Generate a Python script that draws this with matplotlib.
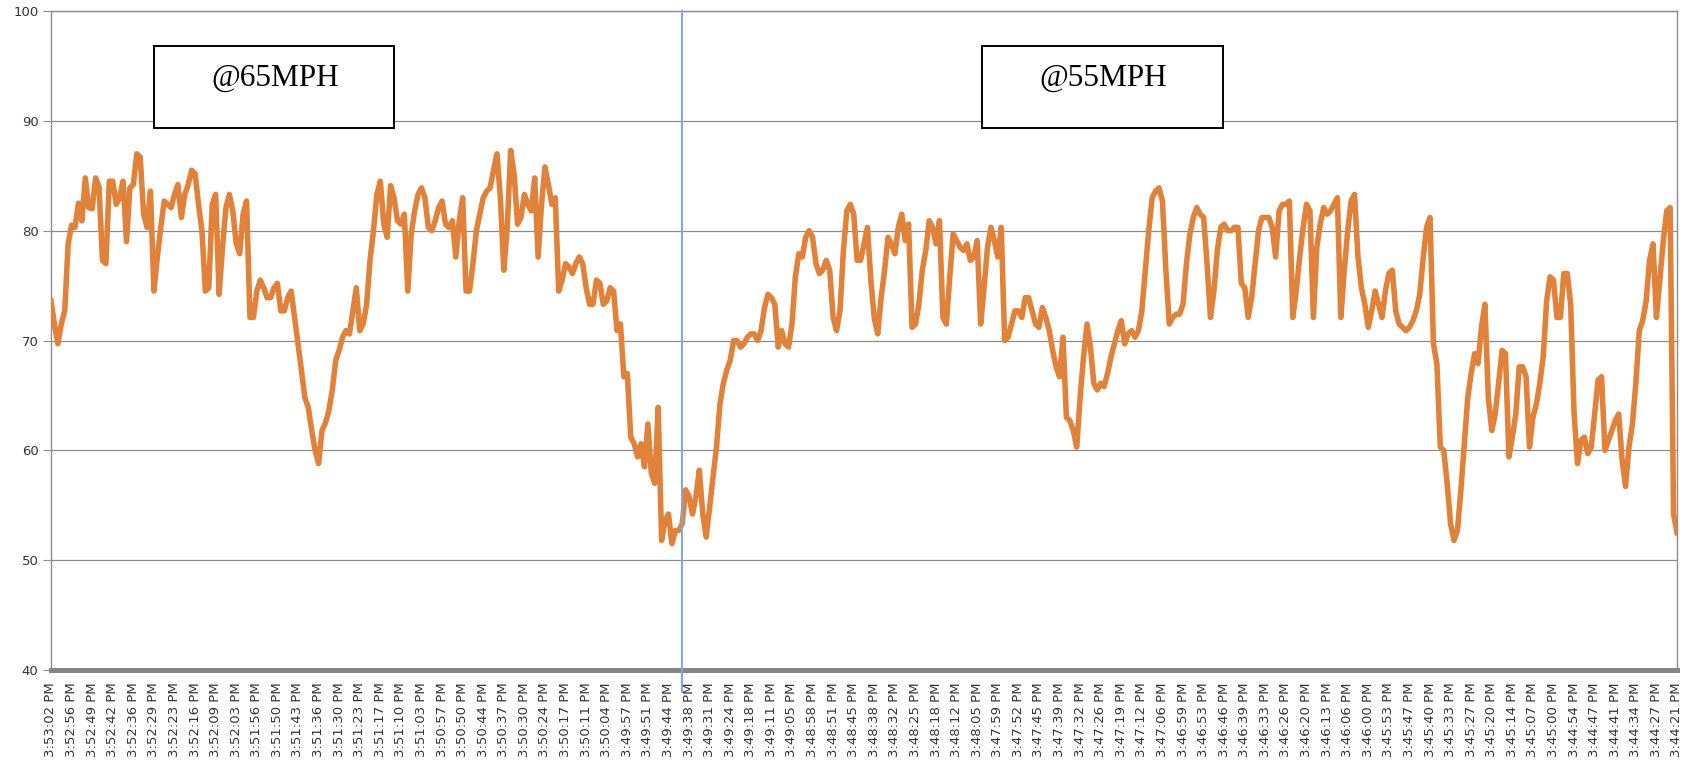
import matplotlib
matplotlib.use("Agg")
import matplotlib.pyplot as plt
from matplotlib.patches import Rectangle

# Category labels shown along the time axis (every sixth sample)
time_labels = [
    "3:53:02 PM", "3:52:56 PM", "3:52:49 PM", "3:52:42 PM", "3:52:36 PM",
    "3:52:29 PM", "3:52:23 PM", "3:52:16 PM", "3:52:09 PM", "3:52:03 PM",
    "3:51:56 PM", "3:51:50 PM", "3:51:43 PM", "3:51:36 PM", "3:51:30 PM",
    "3:51:23 PM", "3:51:17 PM", "3:51:10 PM", "3:51:03 PM", "3:50:57 PM",
    "3:50:50 PM", "3:50:44 PM", "3:50:37 PM", "3:50:30 PM", "3:50:24 PM",
    "3:50:17 PM", "3:50:11 PM", "3:50:04 PM", "3:49:57 PM", "3:49:51 PM",
    "3:49:44 PM", "3:49:38 PM", "3:49:31 PM", "3:49:24 PM", "3:49:18 PM",
    "3:49:11 PM", "3:49:05 PM", "3:48:58 PM", "3:48:51 PM", "3:48:45 PM",
    "3:48:38 PM", "3:48:32 PM", "3:48:25 PM", "3:48:18 PM", "3:48:12 PM",
    "3:48:05 PM", "3:47:59 PM", "3:47:52 PM", "3:47:45 PM", "3:47:39 PM",
    "3:47:32 PM", "3:47:26 PM", "3:47:19 PM", "3:47:12 PM", "3:47:06 PM",
    "3:46:59 PM", "3:46:53 PM", "3:46:46 PM", "3:46:39 PM", "3:46:33 PM",
    "3:46:26 PM", "3:46:20 PM", "3:46:13 PM", "3:46:06 PM", "3:46:00 PM",
    "3:45:53 PM", "3:45:47 PM", "3:45:40 PM", "3:45:33 PM", "3:45:27 PM",
    "3:45:20 PM", "3:45:14 PM", "3:45:07 PM", "3:45:00 PM", "3:44:54 PM",
    "3:44:47 PM", "3:44:41 PM", "3:44:34 PM", "3:44:27 PM", "3:44:21 PM",
]

# Logged readings, newest first
readings = [
    73.6, 71.5, 69.7, 71.5, 72.7, 78.8, 80.5, 80.3, 82.5, 80.9,
    84.8, 82.1, 82.0, 84.8, 84.0, 77.3, 77.0, 84.5, 84.5, 82.4,
    83.0, 84.5, 79.0, 83.9, 84.2, 87.0, 86.7, 81.5, 80.3, 83.6,
    74.5, 77.6, 80.3, 82.7, 82.4, 82.1, 83.3, 84.2, 81.2, 83.3,
    84.2, 85.5, 85.2, 82.4, 80.0, 74.5, 74.8, 82.4, 83.3, 74.2,
    78.5, 82.1, 83.3, 81.8, 78.8, 77.9, 81.5, 82.7, 72.1, 72.1,
    74.5, 75.5, 74.8, 73.9, 73.9, 74.8, 75.2, 72.7, 72.7, 73.9,
    74.5, 72.1, 69.7, 67.3, 64.8, 63.9, 61.8, 60.0, 58.8, 61.8,
    62.5, 63.6, 65.5, 68.2, 69.1, 70.3, 70.9, 70.6, 72.7, 74.8,
    70.9, 71.5, 73.3, 77.3, 80.0, 83.3, 84.5, 80.6, 79.4, 84.1,
    83.0, 80.9, 80.6, 81.5, 74.5, 79.7, 81.8, 83.3, 83.9, 83.0,
    80.3, 80.0, 80.9, 82.1, 82.7, 80.6, 80.3, 80.9, 77.6, 80.9,
    83.0, 74.5, 74.5, 77.0, 80.0, 81.5, 83.0, 83.6, 83.9, 85.5,
    87.0, 83.0, 76.4, 80.3, 87.3, 85.2, 80.6, 81.2, 83.3, 82.4,
    81.8, 84.8, 77.6, 82.4, 85.8, 84.2, 82.4, 83.0, 74.5, 75.5,
    77.0, 76.7, 76.1, 77.0, 77.6, 77.0, 74.8, 73.3, 73.3, 75.5,
    75.2, 73.3, 73.6, 74.8, 74.5, 70.9, 71.5, 66.7, 67.0, 61.2,
    60.6, 59.4, 60.6, 58.5, 62.4, 57.9, 57.0, 63.9, 51.8, 53.6,
    54.2, 51.5, 52.7, 52.7, 53.3, 56.4, 55.8, 54.2, 55.8, 58.2,
    54.2, 52.1, 54.8, 57.6, 60.3, 64.2, 66.1, 67.3, 68.2, 70.0,
    70.0, 69.4, 69.7, 70.3, 70.6, 70.6, 70.0, 70.9, 73.0, 74.2,
    73.9, 73.3, 69.4, 70.9, 69.7, 69.4, 71.5, 75.8, 77.9, 77.6,
    79.4, 80.0, 79.4, 77.0, 76.1, 76.4, 77.3, 76.4, 72.1, 70.9,
    72.7, 78.2, 81.8, 82.4, 81.5, 77.3, 77.3, 78.8, 80.3, 75.5,
    72.0, 70.6, 73.9, 76.4, 79.4, 78.8, 77.9, 80.3, 81.5, 79.1,
    80.6, 71.2, 71.5, 73.3, 76.4, 78.2, 80.9, 80.3, 78.8, 80.9,
    72.1, 71.5, 75.8, 79.7, 79.1, 78.5, 78.2, 78.8, 77.3, 77.6,
    79.1, 71.5, 74.8, 78.5, 80.3, 79.1, 77.6, 80.3, 70.0, 70.3,
    71.5, 72.7, 72.7, 72.1, 73.9, 73.9, 72.7, 71.5, 71.2, 73.0,
    72.1, 70.9, 69.1, 67.6, 66.7, 70.3, 63.0, 62.7, 61.8, 60.3,
    64.8, 68.5, 71.5, 69.4, 66.1, 65.5, 66.1, 65.8, 67.0, 68.5,
    69.7, 70.9, 71.8, 69.7, 70.6, 70.9, 70.3, 70.9, 72.7, 76.4,
    80.0, 83.0, 83.6, 83.9, 82.7, 76.4, 71.5, 72.1, 72.4, 72.4,
    73.3, 77.0, 79.7, 81.2, 82.1, 81.5, 81.2, 77.0, 72.1, 74.5,
    78.2, 80.3, 80.6, 80.0, 80.0, 80.3, 80.3, 75.2, 74.8, 72.1,
    73.9, 77.0, 80.0, 81.2, 81.2, 81.2, 80.3, 77.6, 81.8, 82.4,
    82.4, 82.7, 72.1, 74.5, 77.6, 80.3, 82.4, 81.8, 72.1, 78.5,
    80.6, 82.1, 81.5, 81.8, 82.4, 83.0, 72.1, 76.4, 80.0, 82.7,
    83.3, 77.6, 74.8, 73.3, 71.2, 72.7, 74.5, 73.3, 72.1, 74.5,
    76.1, 76.4, 72.7, 71.5, 71.2, 70.9, 71.2, 71.8, 72.7, 74.2,
    77.5, 80.3, 81.2, 69.7, 67.9, 60.3, 60.0, 57.0, 53.3, 51.8,
    52.7, 56.4, 60.6, 64.8, 67.0, 68.8, 67.9, 71.2, 73.3, 64.8,
    61.8, 63.3, 66.1, 69.1, 68.8, 59.4, 61.2, 63.3, 67.6, 67.6,
    66.7, 60.3, 63.0, 64.2, 66.1, 68.5, 73.6, 75.8, 75.5, 72.1,
    72.1, 76.1, 76.1, 73.3, 63.3, 58.8, 60.9, 61.2, 59.7, 60.3,
    63.3, 66.4, 66.7, 60.0, 60.9, 61.8, 62.7, 63.3, 59.1, 56.7,
    60.3, 62.4, 66.1, 70.9, 71.8, 73.6, 77.3, 78.8, 72.1, 75.5,
    79.1, 81.8, 82.1, 54.2, 52.5,
]

label_step = 6
speed_change_index = 184
speed_notes = ["@65MPH", "@55MPH"]

W, H = 1693, 763
fig = plt.figure(figsize=(W / 100, H / 100), dpi=100)
ax = fig.add_axes([51 / W, 93 / H, (1677 - 51) / W, 659 / H])

grid_c = "#8c8c8c"
text_c = "#333333"

ax.plot(range(len(readings)), readings, color="#E0823A", lw=4.0,
        solid_joinstyle="round", zorder=3)

ax.set_xlim(0, len(readings) - 1)
ax.set_ylim(40, 100)
ax.set_yticks(range(40, 101, 10))
ax.yaxis.grid(True, color=grid_c, lw=0.9, zorder=1)
ax.set_xticks(range(0, len(readings), label_step))
ax.set_xticklabels(time_labels, rotation=90, fontsize=9.5, color=text_c)

ax.tick_params(axis="y", length=6, color=grid_c, labelsize=9.5,
               labelcolor=text_c, pad=3)
ax.tick_params(axis="x", length=0, pad=9)

for side in ("left", "right", "top"):
    ax.spines[side].set_color(grid_c)
    ax.spines[side].set_linewidth(1.0)
ax.spines["bottom"].set_color("#858585")
ax.spines["bottom"].set_linewidth(3.6)

# Marker where the speed changes
ax.plot([speed_change_index, speed_change_index], [100, 38.0],
        color="#7EA6E0", lw=1.4, clip_on=False, zorder=4)

# Annotation boxes (figure pixel coordinates, top-left origin)
def note_box(text, left, right, top, bottom, baseline, cx):
    fig.patches.append(Rectangle((left / W, 1 - bottom / H),
                                 (right - left) / W, (bottom - top) / H,
                                 transform=fig.transFigure, facecolor="white",
                                 edgecolor="black", lw=1.4, zorder=5))
    fig.text(cx / W, 1 - baseline / H, text, ha="center", va="baseline",
             fontsize=22.5, family="Liberation Serif", color="black",
             zorder=6)

note_box(speed_notes[0], 154, 394, 46, 128, 86, 275)
note_box(speed_notes[1], 982, 1223, 46, 128, 86, 1103)

fig.savefig("out.png", dpi=100, facecolor="white")
